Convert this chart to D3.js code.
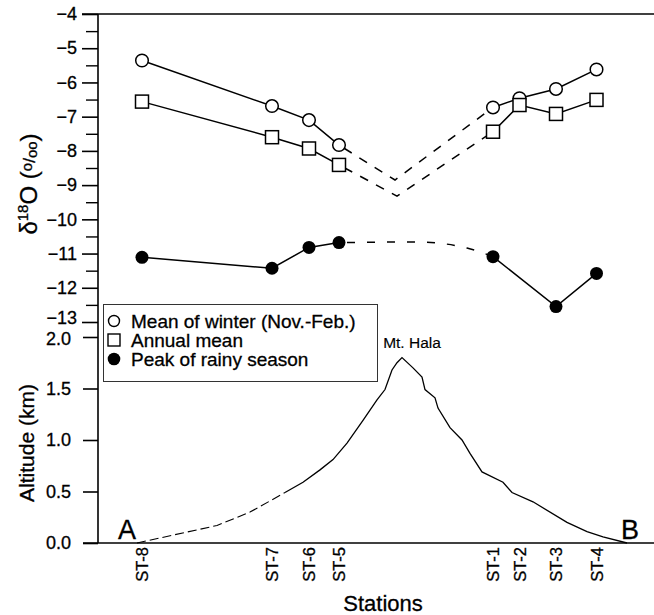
<!DOCTYPE html>
<html><head><meta charset="utf-8">
<script src="https://cdn.jsdelivr.net/npm/d3@7"></script>
<style>
body{margin:0;background:#fff}
svg{display:block}
text{font-family:"Liberation Sans",Arial,Helvetica,sans-serif;fill:#000;stroke:#000;stroke-width:0.3px}
</style>
</head><body>
<svg id="c" width="654" height="615"></svg>
<script>
// ---------- data ----------
const stations    = ["ST-8","ST-7","ST-6","ST-5","ST-1","ST-2","ST-3","ST-4"];
const stationDist = [8.8, 34.8, 42.2, 48.2, 79.0, 84.3, 91.6, 99.7];
const winterMean  = [-5.36, -6.69, -7.10, -7.83, -6.73, -6.46, -6.19, -5.62];
const annualMean  = [-6.56, -7.60, -7.93, -8.41, -7.44, -6.66, -6.92, -6.51];
const rainyPeak   = [-11.11, -11.43, -10.82, -10.68, -11.09, null, -12.55, -11.58];
const westSide = [0,1,2,3];
const eastSide = [4,5,6,7];

// dashed (estimated) connections across the mountain
const winterGapDist = [48.2, 59.4, 79.0];
const winterGapVal  = [-7.83, -8.85, -6.73];
const annualGapDist = [48.2, 59.8, 79.0];
const annualGapVal  = [-8.41, -9.32, -7.44];
const rainyGapDist  = [48.2, 63.8, 73.8, 79.0];
const rainyGapVal   = [-10.68, -10.66, -10.84, -11.09];

// topographic profile A - Mt. Hala - B
const profileDist = [7.8, 23.8, 30.4, 37.4, 41.0, 44.4, 47.0, 49.8, 53.0, 55.8, 57.4, 58.8, 59.8, 60.8,
                     63.0, 64.8, 65.4, 67.4, 68.0, 70.4, 72.8, 74.4, 76.8, 81.0, 82.8, 87.0, 93.8, 97.8, 101.0, 105.8];
const profileAlt  = [0.0, 0.17, 0.30, 0.49, 0.59, 0.71, 0.81, 0.97, 1.19, 1.39, 1.49, 1.68, 1.75, 1.80,
                     1.70, 1.61, 1.49, 1.41, 1.31, 1.12, 1.00, 0.87, 0.69, 0.59, 0.49, 0.40, 0.20, 0.11, 0.06, 0.0];
const profileDashEnd = 37.4;
const peakName = "Mt. Hala";
const peakDist = 60.8, peakAlt = 1.80;

const d18OTicks  = [-4,-5,-6,-7,-8,-9,-10,-11,-12,-13];
const d18OMinor  = [-4.5,-5.5,-6.5,-7.5,-8.5,-9.5,-10.5,-11.5,-12.5];
const altTicks   = [0, 0.5, 1.0, 1.5, 2.0];
const legendLabels = ["Mean of winter (Nov.-Feb.)", "Annual mean", "Peak of rainy season"];

// ---------- scales ----------
const svg = d3.select("#c");
const x = d3.scaleLinear().domain([0, 112]).range([98, 658]);
const yTop = d3.scaleLinear().domain([-13, -4]).range([322, 14]);
const yBot = d3.scaleLinear().domain([0, 2]).range([543, 337]);

// ---------- frame lines ----------
svg.append("line").attr("x1", 82).attr("x2", 654).attr("y1", yTop(-4)).attr("y2", yTop(-4))
  .attr("stroke", "#000").attr("stroke-width", 1.6);
svg.append("line").attr("x1", x(0)).attr("x2", x(0)).attr("y1", yTop(-4)).attr("y2", yBot(0))
  .attr("stroke", "#000").attr("stroke-width", 1.6);
svg.append("line").attr("x1", 83).attr("x2", 654).attr("y1", yBot(0)).attr("y2", yBot(0))
  .attr("stroke", "#000").attr("stroke-width", 1.6);

// ---------- top y axis ----------
const gTop = svg.append("g").attr("transform", `translate(${x(0)},0)`)
  .call(d3.axisLeft(yTop).tickValues(d18OTicks).tickSize(16).tickPadding(5).tickFormat(d3.format("d")));
gTop.select(".domain").remove();
gTop.selectAll(".tick line").attr("stroke-width", 1.6);
gTop.selectAll(".tick text").style("font-size", "18px").attr("fill", "#000")
  .attr("dy", d => d === -13 ? "0.1em" : "0.32em");
const gTopMinor = svg.append("g").attr("transform", `translate(${x(0)},0)`)
  .call(d3.axisLeft(yTop).tickValues(d18OMinor).tickSize(12).tickFormat(""));
gTopMinor.select(".domain").remove();
gTopMinor.selectAll(".tick line").attr("stroke-width", 1.4);

// ---------- bottom y axis ----------
const gBot = svg.append("g").attr("transform", `translate(${x(0)},0)`)
  .call(d3.axisLeft(yBot).tickValues(altTicks).tickSize(15).tickPadding(12).tickFormat(d3.format(".1f")));
gBot.select(".domain").remove();
gBot.selectAll(".tick line").attr("stroke-width", 1.6);
gBot.selectAll(".tick text").style("font-size", "18px").attr("fill", "#000")
  .attr("dy", d => d === 2 ? "0.42em" : "0.32em");

// ---------- x axis (stations) ----------
const gX = svg.append("g").attr("transform", `translate(0,${yBot(0)})`)
  .call(d3.axisBottom(x).tickValues(stationDist).tickSize(0).tickFormat((d, i) => stations[i]));
gX.select(".domain").remove();
gX.selectAll(".tick text")
  .attr("transform", "rotate(-90)")
  .attr("x", -4).attr("y", 0).attr("dy", "0.36em")
  .attr("text-anchor", "end")
  .style("font-size", "16.5px").attr("fill", "#000");

// ---------- axis titles ----------
const t1 = svg.append("text").attr("transform", "translate(37,184) rotate(-90)")
  .attr("text-anchor", "middle").style("font-size", "24px");
t1.append("tspan").text("δ");
t1.append("tspan").attr("dy", -9).style("font-size", "15px").text("18");
t1.append("tspan").attr("dy", 9).text("O");
t1.append("tspan").text(" (");
t1.append("tspan").attr("dy", -5).style("font-size", "15px").text("o");
t1.append("tspan").attr("dy", 3).style("font-size", "17px").text("/");
t1.append("tspan").attr("dy", 2).style("font-size", "15px").text("oo");
t1.append("tspan").text(")");

svg.append("text").attr("transform", "translate(34,443) rotate(-90)")
  .attr("text-anchor", "middle").style("font-size", "21px").text("Altitude (km)");
svg.append("text").attr("x", 383).attr("y", 611)
  .attr("text-anchor", "middle").style("font-size", "22px").text("Stations");

// ---------- profile ----------
const profPts = profileDist.map((d, i) => [d, profileAlt[i]]);
const profLine = d3.line().x(d => x(d[0])).y(d => yBot(d[1]));
svg.append("path").datum(profPts.filter(p => p[0] <= profileDashEnd))
  .attr("d", profLine).attr("fill", "none").attr("stroke", "#000")
  .attr("stroke-width", 1.1).attr("stroke-dasharray", "9,4");
svg.append("path").datum(profPts.filter(p => p[0] >= profileDashEnd))
  .attr("d", profLine).attr("fill", "none").attr("stroke", "#000")
  .attr("stroke-width", 1.3);
svg.append("text").attr("x", x(peakDist) + 10).attr("y", yBot(peakAlt) - 10)
  .attr("text-anchor", "middle").style("font-size", "15.5px").style("stroke-width", "0.15px").text(peakName);
svg.append("text").attr("x", 118).attr("y", 539).style("font-size", "27px").text("A");
svg.append("text").attr("x", 621).attr("y", 539).style("font-size", "27px").text("B");

// ---------- isotope lines ----------
const line = d3.line().x(d => x(d[0])).y(d => yTop(d[1]));
const curved = d3.line().x(d => x(d[0])).y(d => yTop(d[1])).curve(d3.curveMonotoneX);
function series(vals) {
  return [westSide, eastSide].map(idx =>
    idx.filter(i => vals[i] !== null).map(i => [stationDist[i], vals[i]]));
}
[winterMean, annualMean, rainyPeak].forEach(vals => {
  series(vals).forEach(seg => {
    svg.append("path").datum(seg).attr("d", line)
      .attr("fill", "none").attr("stroke", "#000").attr("stroke-width", 1.5);
  });
});
svg.append("path").datum(winterGapDist.map((d, i) => [d, winterGapVal[i]]))
  .attr("d", line).attr("fill", "none").attr("stroke", "#000").attr("stroke-width", 1.5)
  .attr("stroke-dasharray", "9,9").attr("stroke-dashoffset", -6);
svg.append("path").datum(annualGapDist.map((d, i) => [d, annualGapVal[i]]))
  .attr("d", line).attr("fill", "none").attr("stroke", "#000").attr("stroke-width", 1.5)
  .attr("stroke-dasharray", "9,9").attr("stroke-dashoffset", -6);
svg.append("path").datum(rainyGapDist.map((d, i) => [d, rainyGapVal[i]]))
  .attr("d", curved).attr("fill", "none").attr("stroke", "#000").attr("stroke-width", 1.5)
  .attr("stroke-dasharray", "8,12").attr("stroke-dashoffset", -8);

// markers
const idxAll = d3.range(stations.length);
svg.append("g").selectAll("circle").data(idxAll).join("circle")
  .attr("cx", i => x(stationDist[i])).attr("cy", i => yTop(winterMean[i])).attr("r", 6.3)
  .attr("fill", "#fff").attr("stroke", "#000").attr("stroke-width", 1.5);
svg.append("g").selectAll("rect").data(idxAll).join("rect")
  .attr("x", i => x(stationDist[i]) - 6.5).attr("y", i => yTop(annualMean[i]) - 6.5)
  .attr("width", 13).attr("height", 13)
  .attr("fill", "#fff").attr("stroke", "#000").attr("stroke-width", 1.5);
svg.append("g").selectAll("circle").data(idxAll.filter(i => rainyPeak[i] !== null)).join("circle")
  .attr("cx", i => x(stationDist[i])).attr("cy", i => yTop(rainyPeak[i])).attr("r", 6.5)
  .attr("fill", "#000");

// ---------- legend ----------
const lg = svg.append("g");
lg.append("rect").attr("x", 103.5).attr("y", 304.5).attr("width", 274).attr("height", 77)
  .attr("fill", "#fff").attr("stroke", "#333").attr("stroke-width", 1);
const rowY = [321, 340, 359];
lg.append("circle").attr("cx", 114).attr("cy", rowY[0]).attr("r", 5.5)
  .attr("fill", "#fff").attr("stroke", "#000").attr("stroke-width", 1.4);
lg.append("rect").attr("x", 108).attr("y", rowY[1] - 6).attr("width", 12).attr("height", 12)
  .attr("fill", "#fff").attr("stroke", "#000").attr("stroke-width", 1.4);
lg.append("circle").attr("cx", 114).attr("cy", rowY[2]).attr("r", 6.3).attr("fill", "#000");
lg.selectAll("text").data(legendLabels).join("text")
  .attr("x", 131).attr("y", (d, i) => rowY[i] + 6.5)
  .style("font-size", "19px").text(d => d);
</script>
</body></html>
